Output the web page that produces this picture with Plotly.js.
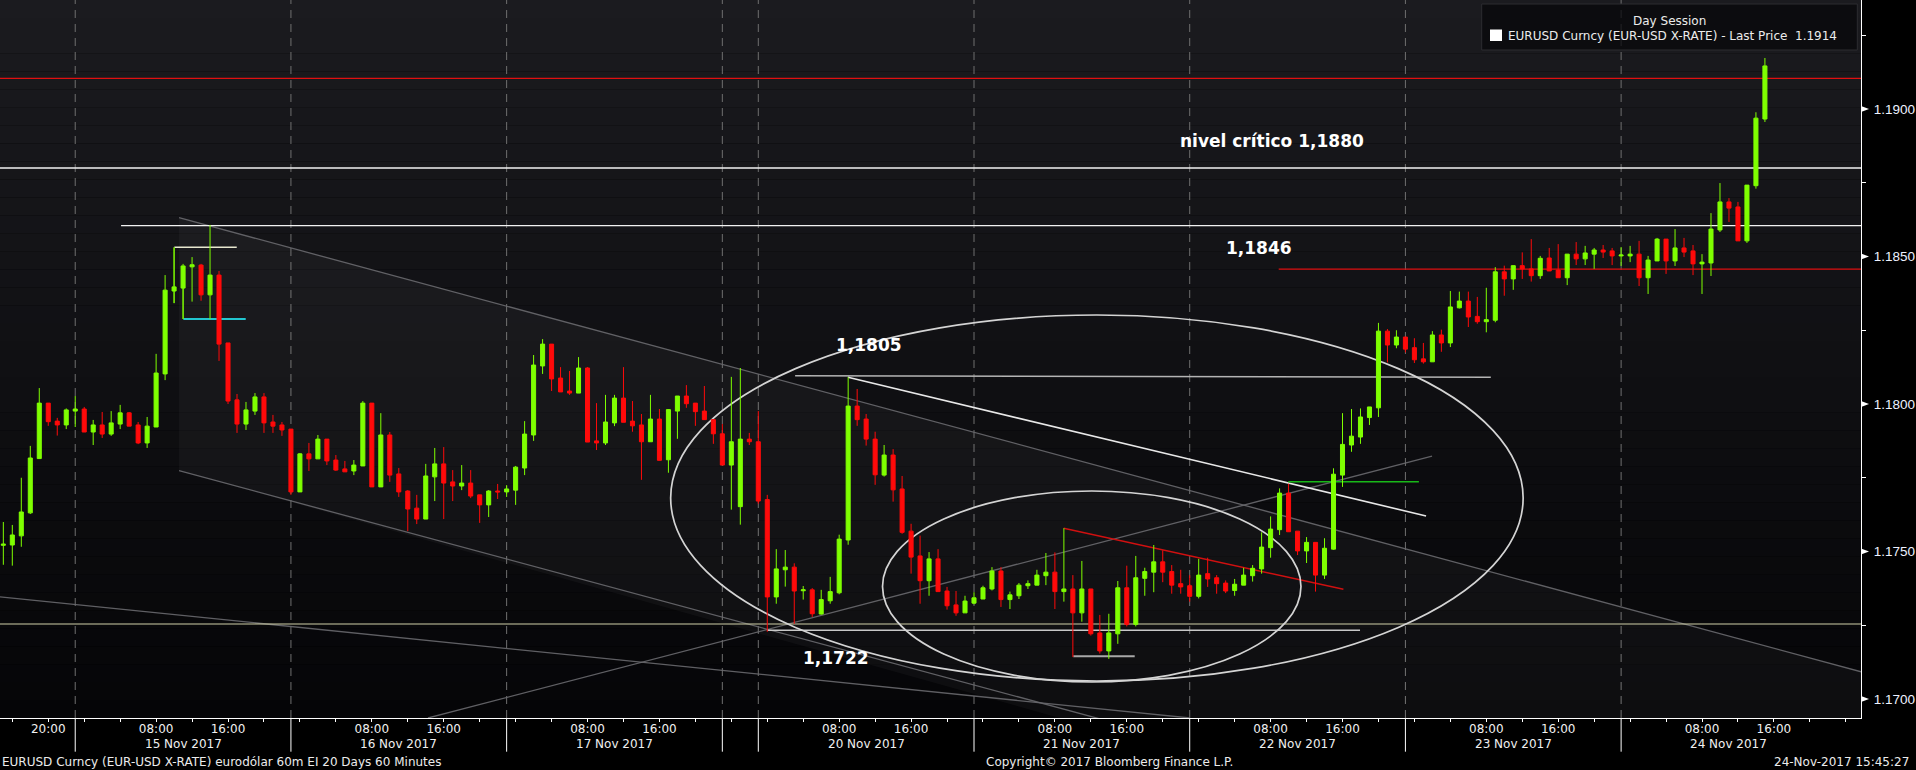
<!DOCTYPE html>
<html><head><meta charset="utf-8">
<script src="https://cdn.plot.ly/plotly-3.0.1.min.js"></script>
<style>html,body{margin:0;padding:0;background:#000;overflow:hidden}#chart{width:1916px;height:770px}</style>
</head><body><div id="chart"></div>
<script>
// ---- hourly EURUSD bars (index = hour bar position) ----
const openP = [
1.17521,1.17522,1.17553,1.17631,1.17815,1.18003,1.17942,1.17929,1.17976,1.17983,
1.17905,1.17929,1.17898,1.17932,1.17970,1.17929,1.17868,1.17922,1.18102,1.18383,
1.18393,1.18465,1.18471,1.18370,1.18437,1.18207,1.18014,1.17932,1.17976,1.18024,
1.17939,1.17929,1.17915,1.17702,1.17831,1.17814,1.17881,1.17810,1.17780,1.17773,
1.17790,1.18003,1.17719,1.17895,1.17763,1.17705,1.17647,1.17610,1.17753,1.17797,
1.17736,1.17722,1.17732,1.17692,1.17658,1.17705,1.17702,1.17708,1.17783,1.17895,
1.18129,1.18203,1.18088,1.18044,1.18037,1.18122,1.17875,1.17868,1.17936,1.18020,
1.17942,1.17929,1.17872,1.17949,1.17811,1.17976,1.18027,1.18003,1.17976,1.17947,
1.17899,1.17793,1.17652,1.17881,1.17872,1.17676,1.17346,1.17438,1.17447,1.17367,
1.17370,1.17288,1.17333,1.17360,1.17539,1.17993,1.17949,1.17881,1.17759,1.17827,
1.17712,1.17569,1.17485,1.17401,1.17475,1.17366,1.17319,1.17292,1.17325,1.17339,
1.17373,1.17434,1.17337,1.17350,1.17384,1.17386,1.17418,1.17430,1.17364,1.17373,
1.17292,1.17373,1.17224,1.17163,1.17221,1.17377,1.17253,1.17409,1.17430,1.17465,
1.17432,1.17391,1.17384,1.17348,1.17425,1.17411,1.17393,1.17368,1.17386,1.17418,
1.17441,1.17513,1.17574,1.17698,1.17569,1.17502,1.17531,1.17420,1.17508,1.17759,
1.17861,1.17888,1.17954,1.17987,1.18247,1.18200,1.18227,1.18191,1.18153,1.18143,
1.18234,1.18207,1.18326,1.18349,1.18297,1.18279,1.18284,1.18448,1.18424,1.18469,
1.18458,1.18435,1.18495,1.18454,1.18428,1.18508,1.18492,1.18508,1.18522,1.18519,
1.18502,1.18502,1.18508,1.18428,1.18485,1.18559,1.18485,1.18529,1.18519,1.18475,
1.18478,1.18590,1.18685,1.18668,1.18553,1.18740,1.18966];
const highP = [
1.17600,1.17590,1.17750,1.17858,1.18054,1.18003,1.17953,1.17985,1.18027,1.17990,
1.17946,1.17973,1.17976,1.17997,1.17973,1.17939,1.17956,1.18170,1.18437,1.18531,
1.18475,1.18498,1.18475,1.18607,1.18451,1.18207,1.18034,1.18007,1.18037,1.18037,
1.17963,1.17939,1.17915,1.17834,1.17868,1.17895,1.17881,1.17827,1.17807,1.17810,
1.18010,1.18003,1.17969,1.17905,1.17783,1.17708,1.17692,1.17797,1.17851,1.17854,
1.17776,1.17793,1.17776,1.17692,1.17708,1.17729,1.17725,1.17790,1.17942,1.18166,
1.18220,1.18203,1.18125,1.18112,1.18159,1.18125,1.18003,1.18031,1.18031,1.18125,
1.18010,1.17966,1.18031,1.17983,1.17983,1.18027,1.18064,1.18003,1.18061,1.17947,
1.17932,1.18092,1.18122,1.17902,1.17976,1.17692,1.17508,1.17505,1.17460,1.17383,
1.17376,1.17370,1.17414,1.17557,1.18091,1.18051,1.17966,1.17906,1.17861,1.17847,
1.17756,1.17594,1.17554,1.17498,1.17508,1.17380,1.17366,1.17350,1.17362,1.17384,
1.17447,1.17447,1.17364,1.17393,1.17402,1.17438,1.17495,1.17497,1.17579,1.17420,
1.17468,1.17373,1.17285,1.17289,1.17400,1.17452,1.17485,1.17445,1.17522,1.17504,
1.17454,1.17438,1.17420,1.17475,1.17479,1.17420,1.17402,1.17407,1.17445,1.17454,
1.17565,1.17619,1.17714,1.17730,1.17569,1.17549,1.17531,1.17545,1.17782,1.17969,
1.17983,1.17985,1.17990,1.18275,1.18254,1.18250,1.18227,1.18223,1.18207,1.18247,
1.18252,1.18383,1.18381,1.18381,1.18363,1.18394,1.18464,1.18469,1.18469,1.18514,
1.18559,1.18502,1.18529,1.18542,1.18508,1.18549,1.18536,1.18529,1.18539,1.18529,
1.18532,1.18536,1.18553,1.18502,1.18563,1.18559,1.18593,1.18563,1.18539,1.18508,
1.18647,1.18749,1.18698,1.18685,1.18742,1.18989,1.19173];
const lowP = [
1.17455,1.17452,1.17516,1.17627,1.17815,1.17926,1.17893,1.17915,1.17922,1.17905,
1.17861,1.17885,1.17892,1.17915,1.17925,1.17864,1.17851,1.17922,1.18081,1.18342,
1.18288,1.18347,1.18350,1.18288,1.18146,1.18000,1.17902,1.17912,1.17963,1.17902,
1.17902,1.17892,1.17692,1.17702,1.17773,1.17814,1.17793,1.17773,1.17770,1.17759,
1.17790,1.17719,1.17719,1.17736,1.17685,1.17569,1.17593,1.17610,1.17671,1.17610,
1.17671,1.17708,1.17681,1.17597,1.17617,1.17678,1.17685,1.17658,1.17759,1.17875,
1.18102,1.18044,1.18041,1.18031,1.18037,1.17871,1.17844,1.17861,1.17925,1.17938,
1.17906,1.17743,1.17872,1.17809,1.17767,1.17882,1.17987,1.17926,1.17947,1.17865,
1.17793,1.17642,1.17591,1.17861,1.17662,1.17228,1.17323,1.17381,1.17255,1.17337,
1.17278,1.17286,1.17323,1.17355,1.17523,1.17926,1.17859,1.17726,1.17754,1.17669,
1.17560,1.17425,1.17323,1.17350,1.17364,1.17303,1.17282,1.17292,1.17321,1.17339,
1.17368,1.17312,1.17305,1.17339,1.17373,1.17386,1.17386,1.17305,1.17330,1.17142,
1.17262,1.17215,1.17154,1.17136,1.17187,1.17246,1.17246,1.17350,1.17362,1.17396,
1.17357,1.17357,1.17330,1.17341,1.17380,1.17357,1.17359,1.17350,1.17386,1.17398,
1.17425,1.17479,1.17556,1.17567,1.17488,1.17461,1.17364,1.17407,1.17506,1.17719,
1.17838,1.17865,1.17929,1.17956,1.18141,1.18189,1.18175,1.18139,1.18137,1.18143,
1.18177,1.18193,1.18324,1.18261,1.18272,1.18243,1.18277,1.18367,1.18387,1.18424,
1.18415,1.18424,1.18451,1.18428,1.18403,1.18471,1.18471,1.18458,1.18495,1.18471,
1.18468,1.18481,1.18400,1.18373,1.18485,1.18441,1.18468,1.18498,1.18437,1.18373,
1.18434,1.18583,1.18617,1.18553,1.18546,1.18730,1.18956];
const closeP = [
1.17525,1.17556,1.17634,1.17817,1.18003,1.17940,1.17929,1.17980,1.17983,1.17905,
1.17929,1.17898,1.17936,1.17970,1.17925,1.17868,1.17925,1.18105,1.18386,1.18397,
1.18468,1.18472,1.18370,1.18437,1.18203,1.18010,1.17932,1.17980,1.18024,1.17936,
1.17925,1.17912,1.17702,1.17831,1.17814,1.17881,1.17807,1.17776,1.17770,1.17793,
1.18003,1.17719,1.17895,1.17759,1.17702,1.17644,1.17610,1.17756,1.17797,1.17732,
1.17722,1.17732,1.17688,1.17658,1.17705,1.17702,1.17712,1.17786,1.17898,1.18132,
1.18203,1.18085,1.18041,1.18037,1.18122,1.17871,1.17868,1.17939,1.18020,1.17938,
1.17926,1.17872,1.17949,1.17809,1.17981,1.18027,1.18001,1.17974,1.17947,1.17899,
1.17793,1.17872,1.17881,1.17872,1.17671,1.17346,1.17441,1.17447,1.17366,1.17370,
1.17289,1.17337,1.17364,1.17542,1.17993,1.17947,1.17881,1.17760,1.17827,1.17709,
1.17565,1.17481,1.17401,1.17475,1.17364,1.17316,1.17292,1.17332,1.17343,1.17377,
1.17434,1.17337,1.17353,1.17386,1.17391,1.17420,1.17430,1.17364,1.17373,1.17292,
1.17373,1.17221,1.17163,1.17224,1.17377,1.17253,1.17411,1.17432,1.17465,1.17430,
1.17386,1.17380,1.17348,1.17420,1.17407,1.17391,1.17366,1.17389,1.17420,1.17443,
1.17515,1.17576,1.17698,1.17567,1.17502,1.17531,1.17420,1.17511,1.17762,1.17863,
1.17891,1.17956,1.17990,1.18247,1.18200,1.18227,1.18186,1.18150,1.18143,1.18234,
1.18207,1.18329,1.18349,1.18295,1.18279,1.18286,1.18448,1.18424,1.18469,1.18458,
1.18435,1.18494,1.18451,1.18428,1.18508,1.18492,1.18512,1.18522,1.18515,1.18502,
1.18505,1.18508,1.18428,1.18488,1.18559,1.18485,1.18529,1.18515,1.18475,1.18481,
1.18593,1.18685,1.18664,1.18553,1.18742,1.18969,1.19146];
const barIndex = openP.map((_, i) => i);

// ---- axis labels ----
const daySeparators = [8, 32, 56, 80, 84, 108, 132, 156, 180];
const dayLabelIdx = [20, 44, 68, 96, 120, 144, 168, 192];
const dayLabelText = ['15 Nov 2017','16 Nov 2017','17 Nov 2017','20 Nov 2017','21 Nov 2017','22 Nov 2017','23 Nov 2017','24 Nov 2017'];
const timeTickIdx = [5, 17, 25, 41, 49, 65, 73, 93, 101, 117, 125, 141, 149, 165, 173, 189, 197];
const timeTickText = ['20:00','08:00','16:00','08:00','16:00','08:00','16:00','08:00','16:00','08:00','16:00','08:00','16:00','08:00','16:00','08:00','16:00'];
const priceTickVals = [1.1700, 1.1725, 1.1750, 1.1775, 1.1800, 1.1825, 1.1850, 1.1875, 1.1900, 1.1925];
const priceMajor = [1.1700, 1.1750, 1.1800, 1.1850, 1.1900];

// ---- drawn analysis (levels, trend lines, ellipses) ----
const levelPrices = [1.19104, 1.18800, 1.18605, 1.18457, 1.172542, 1.172329];
const levelFrom =   [-1, -1, 13.1, 141.9, -1, 85.0];
const levelTo =     [210, 210, 210, 210, 210, 150.95];
const levelColor =  ['#e01010', '#f2f2f2', '#f2f2f2', '#e01010', '#cfcfa8', '#c8c8c8'];
const levelWidth =  [1.3, 1.3, 1.3, 1.3, 1.2, 1.6];

const xRange = [-0.37, 206.69];
const yRange = [1.169356, 1.193695];

const shapes = [];
// background gradient
const nBands = 40, topC = [27,27,31], botC = [5,5,7];
for (let k = 0; k < nBands; k++) {
  const t = (k + 0.5) / nBands;
  const c = botC.map((b, j) => Math.round(b + (topC[j] - b) * t));
  shapes.push({type:'rect', xref:'paper', yref:'paper', x0:0, x1:1, y0:k/nBands, y1:(k+1)/nBands,
    fillcolor:`rgb(${c[0]},${c[1]},${c[2]})`, line:{width:0}, layer:'below'});
}
// channel shading + lines
shapes.push({type:'path', xref:'x', yref:'y', layer:'below', line:{width:0}, fillcolor:'rgba(255,255,255,0.035)',
  path:'M 19.55,1.186315 L 215,1.170240 L 215,1.1690 L 121.68,1.1690 L 19.55,1.177739 Z'});
const grayLines = [
  [19.55, 1.186315, 215, 1.170240],
  [19.55, 1.177739, 125.0, 1.169080],
  [-1, 1.173480, 132.03, 1.169356],
  [47.25, 1.169356, 158.96, 1.178237]
];
grayLines.forEach(g => shapes.push({type:'line', xref:'x', yref:'y', x0:g[0], y0:g[1], x1:g[2], y1:g[3],
  line:{color:'rgba(105,105,110,0.9)', width:1.3}, layer:'below'}));
// day separators
daySeparators.forEach(s => {
  shapes.push({type:'line', xref:'x', yref:'paper', x0:s, x1:s, y0:0, y1:1, layer:'below',
    line:{color:'#6f6f6f', width:1, dash:'8px,6px'}});
  shapes.push({type:'line', xref:'x', yref:'paper', x0:s, x1:s, y0:0, y1:-33.7/718,
    line:{color:'#ffffff', width:1}});
});
// horizontal levels
levelPrices.forEach((p, i) => shapes.push({type:'line', xref:'x', yref:'y', x0:levelFrom[i], x1:levelTo[i], y0:p, y1:p,
  line:{color:levelColor[i], width:levelWidth[i]}, layer:'below'}));
// other drawn lines
const drawn = [
  [88.1, 1.180959, 165.5, 1.180905, '#b4b4b4', 1.6],
  [93.98, 1.180905, 158.3, 1.176203, '#e8e8e8', 1.6],
  [117.98, 1.175786, 149.1, 1.173719, '#d01010', 1.5],
  [142.97, 1.177366, 157.5, 1.177366, '#18b818', 1.6],
  [119.05, 1.171447, 125.88, 1.171447, '#a8a8a8', 2],
  [19.03, 1.18531, 25.97, 1.18531, '#e8e8d0', 1.5],
  [20.03, 1.18288, 26.97, 1.18288, '#22c6d0', 2],
  [19.0, 1.18531, 19.0, 1.18342, '#7fff00', 1],
  [20.0, 1.18288, 20.0, 1.18393, '#7fff00', 1]
];
drawn.forEach(d => shapes.push({type:'line', xref:'x', yref:'y', x0:d[0], y0:d[1], x1:d[2], y1:d[3],
  line:{color:d[4], width:d[5]}, layer:'below'}));
// ellipses
const ellipses = [[74.25, 169.1, 1.17061, 1.183017], [97.82, 144.38, 1.170576, 1.177051]];
ellipses.forEach(e => shapes.push({type:'circle', xref:'x', yref:'y', x0:e[0], x1:e[1], y0:e[2], y1:e[3],
  line:{color:'#d4d4d4', width:1.7}, layer:'below'}));
// legend box
shapes.push({type:'rect', xref:'paper', yref:'paper', x0:1481.7/1861, x1:1857.3/1861, y0:(718-50)/718, y1:(718-4)/718,
  fillcolor:'rgba(8,8,11,0.75)', line:{color:'#2c2c30', width:1}, layer:'below'});
shapes.push({type:'rect', xref:'paper', yref:'paper', x0:1490/1861, x1:1502/1861, y0:(718-41)/718, y1:(718-29.5)/718,
  fillcolor:'#ffffff', line:{width:0}});
// y-axis pointer triangles
const triW = 8/1861, triH = 2.9/29500;
priceMajor.forEach(p => shapes.push({type:'path', xref:'paper', yref:'y', fillcolor:'#ffffff', line:{width:0},
  path:`M 1,${p+triH} L ${1+triW},${p} L 1,${p-triH} Z`}));

const annotations = [];
dayLabelIdx.forEach((x, i) => annotations.push({xref:'x', yref:'paper', x:x, y:-25.7/718, text:dayLabelText[i],
  showarrow:false, xanchor:'center', yanchor:'middle', font:{family:'DejaVu Sans', size:12, color:'#f0f0f0'}}));
const baseFont = {family:'DejaVu Sans', size:12, color:'#ececec'};
annotations.push({xref:'paper', yref:'paper', x:0, y:-44/718, xanchor:'left', yanchor:'middle', showarrow:false,
  text:'EURUSD Curncy (EUR-USD X-RATE) eurodólar 60m EI 20 Days 60 Minutes', font:baseFont});
annotations.push({xref:'paper', yref:'paper', x:1109/1861, y:-44/718, xanchor:'center', yanchor:'middle', showarrow:false,
  text:'Copyright© 2017 Bloomberg Finance L.P.', font:baseFont});
annotations.push({xref:'paper', yref:'paper', x:1911/1861, y:-44/718, xanchor:'right', yanchor:'middle', showarrow:false,
  text:'24-Nov-2017 15:45:27', font:baseFont});
annotations.push({xref:'paper', yref:'paper', x:1669/1861, y:(718-20.7)/718, xanchor:'center', yanchor:'middle', showarrow:false,
  text:'Day Session', font:baseFont});
annotations.push({xref:'paper', yref:'paper', x:1506/1861, y:(718-36)/718, xanchor:'left', yanchor:'middle', showarrow:false,
  text:'EURUSD Curncy (EUR-USD X-RATE) - Last Price  1.1914', font:baseFont});
const boldFont = {family:'DejaVu Sans', size:17, color:'#ffffff', weight:'bold'};
const notes = [
  [141.2, 1.188925, 'nivel crítico 1,1880'],
  [139.7, 1.185278, '1,1846'],
  [96.3, 1.182014, '1,1805'],
  [92.65, 1.171407, '1,1722']
];
notes.forEach(n => annotations.push({xref:'x', yref:'y', x:n[0], y:n[1], text:n[2], showarrow:false,
  xanchor:'center', yanchor:'middle', font:boldFont}));

const xTickVals = [], xTickText = [];
for (let v = 1; v <= 205; v += 4) {
  xTickVals.push(v);
  const k = timeTickIdx.indexOf(v);
  xTickText.push(k >= 0 ? timeTickText[k] : '');
}
const yTickText = priceTickVals.map(v => priceMajor.some(m => Math.abs(m - v) < 1e-9) ? v.toFixed(4) : '');

const trace = {
  type:'candlestick', x:barIndex, open:openP, high:highP, low:lowP, close:closeP,
  increasing:{line:{color:'#7fff00', width:1}, fillcolor:'#7fff00'},
  decreasing:{line:{color:'#ff0a0a', width:1}, fillcolor:'#ff0a0a'},
  whiskerwidth:0, hoverinfo:'skip', showlegend:false
};

const layout = {
  width:1916, height:770,
  margin:{l:0, r:55, t:0, b:52, pad:0},
  paper_bgcolor:'#000000', plot_bgcolor:'#000000',
  showlegend:false,
  boxgap:0.55, boxgroupgap:0,
  xaxis:{range:xRange, showgrid:false, zeroline:false, showline:true, linecolor:'#ffffff', linewidth:1,
    rangeslider:{visible:false}, tickmode:'array', tickvals:xTickVals, ticktext:xTickText,
    ticks:'outside', ticklen:3, tickwidth:1, tickcolor:'#ffffff', ticklabelstandoff:-3,
    tickfont:{family:'DejaVu Sans', size:12, color:'#f0f0f0'}, fixedrange:true},
  yaxis:{range:yRange, side:'right', showgrid:false, zeroline:false, showline:true, linecolor:'#ffffff', linewidth:1,
    tickmode:'array', tickvals:priceTickVals, ticktext:yTickText, ticks:'outside', ticklen:4, tickwidth:1, tickcolor:'#ffffff',
    ticklabelstandoff:5, tickfont:{family:'Liberation Sans, Arial', size:13.5, color:'#eef2ff'}, fixedrange:true},
  shapes:shapes, annotations:annotations
};
Plotly.newPlot('chart', [trace], layout, {staticPlot:true, displayModeBar:false});
</script></body></html>
